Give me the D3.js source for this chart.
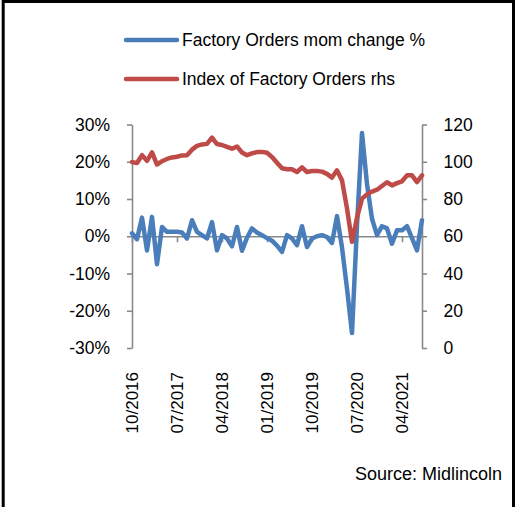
<!DOCTYPE html>
<html>
<head>
<meta charset="utf-8">
<script src="https://cdn.jsdelivr.net/npm/d3@7"></script>
<style>
  body { margin: 0; background: #fff; }
  svg text { font-family: "Liberation Sans", Arial, sans-serif; fill: #000; }
</style>
</head>
<body>
<div id="chart"></div>
<script>
// months shown on the category axis
const months = [
  "10/2016","11/2016","12/2016",
  "01/2017","02/2017","03/2017","04/2017","05/2017","06/2017","07/2017","08/2017","09/2017","10/2017","11/2017","12/2017",
  "01/2018","02/2018","03/2018","04/2018","05/2018","06/2018","07/2018","08/2018","09/2018","10/2018","11/2018","12/2018",
  "01/2019","02/2019","03/2019","04/2019","05/2019","06/2019","07/2019","08/2019","09/2019","10/2019","11/2019","12/2019",
  "01/2020","02/2020","03/2020","04/2020","05/2020","06/2020","07/2020","08/2020","09/2020","10/2020","11/2020","12/2020",
  "01/2021","02/2021","03/2021","04/2021","05/2021","06/2021","07/2021","08/2021"
];

// Factory Orders mom change, %
const momChange = [
  0.8, -0.8, 5.0, -3.8, 5.2, -7.5, 2.5, 1.2, 1.2, 1.2,
  1.0, -0.6, 4.3, 1.2, 0.3, -0.6, 3.8, -3.8, 0.3, -0.6,
  -2.7, 2.5, -3.9, -0.4, 2.1, 1.0, 0.3, -0.5, -1.2, -2.5,
  -4.2, 0.3, -0.6, -2.4, 2.7, -2.9, -0.6, 0.0, 0.3, -0.2,
  -1.8, 5.4, -3.0, -14.0, -26.0, 3.0, 27.7, 14.0, 4.7, 0.3,
  2.7, 2.1, -2.0, 1.6, 1.6, 2.7, -0.5, -3.8, 4.3
];

// Index of Factory Orders (rhs)
const orderIndex = [
  99.8, 99.3, 103.5, 100.5, 105.0, 98.5, 100.3, 101.5, 102.3, 102.7,
  103.4, 103.5, 106.5, 108.5, 109.3, 109.6, 113.0, 109.5, 109.0, 108.0,
  107.0, 108.2, 105.0, 103.5, 104.5, 105.2, 105.3, 104.8, 102.6, 99.5,
  96.5, 96.0, 96.0, 94.5, 97.0, 94.5, 95.0, 95.0, 94.7, 93.5,
  91.5, 95.4, 90.0, 75.0, 57.0, 70.0, 80.2, 82.5, 84.0, 85.0,
  87.0, 89.0, 87.3, 88.5, 89.5, 92.7, 92.7, 89.1, 92.7
];

const leftTicks = [-30, -20, -10, 0, 10, 20, 30];
const rightTicks = [0, 20, 40, 60, 80, 100, 120];
const labelMonths = ["10/2016","07/2017","04/2018","01/2019","10/2019","07/2020","04/2021"];

const seriesNames = ["Factory Orders mom change %", "Index of Factory Orders rhs"];
const colors = ["#4a7ebb", "#be4b48"];

const W = 518, H = 507;
const plot = {left: 132, right: 422, top: 124.5, bottom: 348};

const svg = d3.select("#chart").append("svg")
  .attr("width", W)
  .attr("height", H);

// scales
const x = d3.scalePoint().domain(months).range([plot.left, plot.right]);
const yLeft = d3.scaleLinear().domain([-30, 30]).range([plot.bottom, plot.top]);
const yRight = d3.scaleLinear().domain([0, 120]).range([plot.bottom, plot.top]);

const axisColor = "#898989";

// left axis
const gl = svg.append("g")
  .attr("transform", "translate(" + plot.left + ",0)")
  .call(d3.axisLeft(yLeft).tickValues(leftTicks).tickSize(5).tickSizeOuter(0)
    .tickPadding(17).tickFormat(d => d + "%"));

// right axis
const gr = svg.append("g")
  .attr("transform", "translate(" + plot.right + ",0)")
  .call(d3.axisRight(yRight).tickValues(rightTicks).tickSize(5).tickSizeOuter(0)
    .tickPadding(16.5).tickFormat(d3.format("d")));

// x axis sits on the 0% line
const gx = svg.append("g")
  .attr("transform", "translate(0," + yLeft(0) + ")")
  .call(d3.axisBottom(x).tickValues(labelMonths).tickSize(6).tickSizeOuter(0).tickFormat(""));

[gl, gr, gx].forEach(g => {
  g.selectAll("path, line").attr("stroke", axisColor).attr("stroke-width", 1.6);
  g.selectAll("text").attr("font-size", 17.5).attr("fill", "#000")
    .style("font-family", "'Liberation Sans', Arial, sans-serif");
});

// rotated month labels
svg.append("g").selectAll("text")
  .data(labelMonths)
  .enter().append("text")
  .attr("transform", d => "translate(" + x(d) + ",372) rotate(-90)")
  .attr("text-anchor", "end")
  .attr("dy", "0.35em")
  .attr("font-size", 17)
  .text(d => d);

// lines
const lineLeft = d3.line().x((d, i) => x(months[i])).y(d => yLeft(d));
const lineRight = d3.line().x((d, i) => x(months[i])).y(d => yRight(d));

svg.append("path")
  .datum(momChange)
  .attr("d", lineLeft)
  .attr("fill", "none")
  .attr("stroke", colors[0])
  .attr("stroke-width", 4.5)
  .attr("stroke-linejoin", "round")
  .attr("stroke-linecap", "round");

svg.append("path")
  .datum(orderIndex)
  .attr("d", lineRight)
  .attr("fill", "none")
  .attr("stroke", colors[1])
  .attr("stroke-width", 4.5)
  .attr("stroke-linejoin", "round")
  .attr("stroke-linecap", "round");

// legend
const legend = svg.append("g").selectAll("g")
  .data(seriesNames)
  .enter().append("g")
  .attr("transform", (d, i) => "translate(0," + (40 + i * 39) + ")");

legend.append("line")
  .attr("x1", 126).attr("x2", 177)
  .attr("y1", 0).attr("y2", 0)
  .attr("stroke", (d, i) => colors[i])
  .attr("stroke-width", 4.5)
  .attr("stroke-linecap", "round");

legend.append("text")
  .attr("x", 182)
  .attr("dy", "0.35em")
  .attr("font-size", 17.5)
  .text(d => d);

// source note
svg.append("text")
  .attr("x", 502)
  .attr("y", 480)
  .attr("text-anchor", "end")
  .attr("font-size", 18)
  .text("Source: Midlincoln");

// frame: top, left and right edges
svg.append("path")
  .attr("d", "M3.2," + H + "V1.5H513.5V" + H)
  .attr("fill", "none")
  .attr("stroke", "#000")
  .attr("stroke-width", 3);
</script>
</body>
</html>
